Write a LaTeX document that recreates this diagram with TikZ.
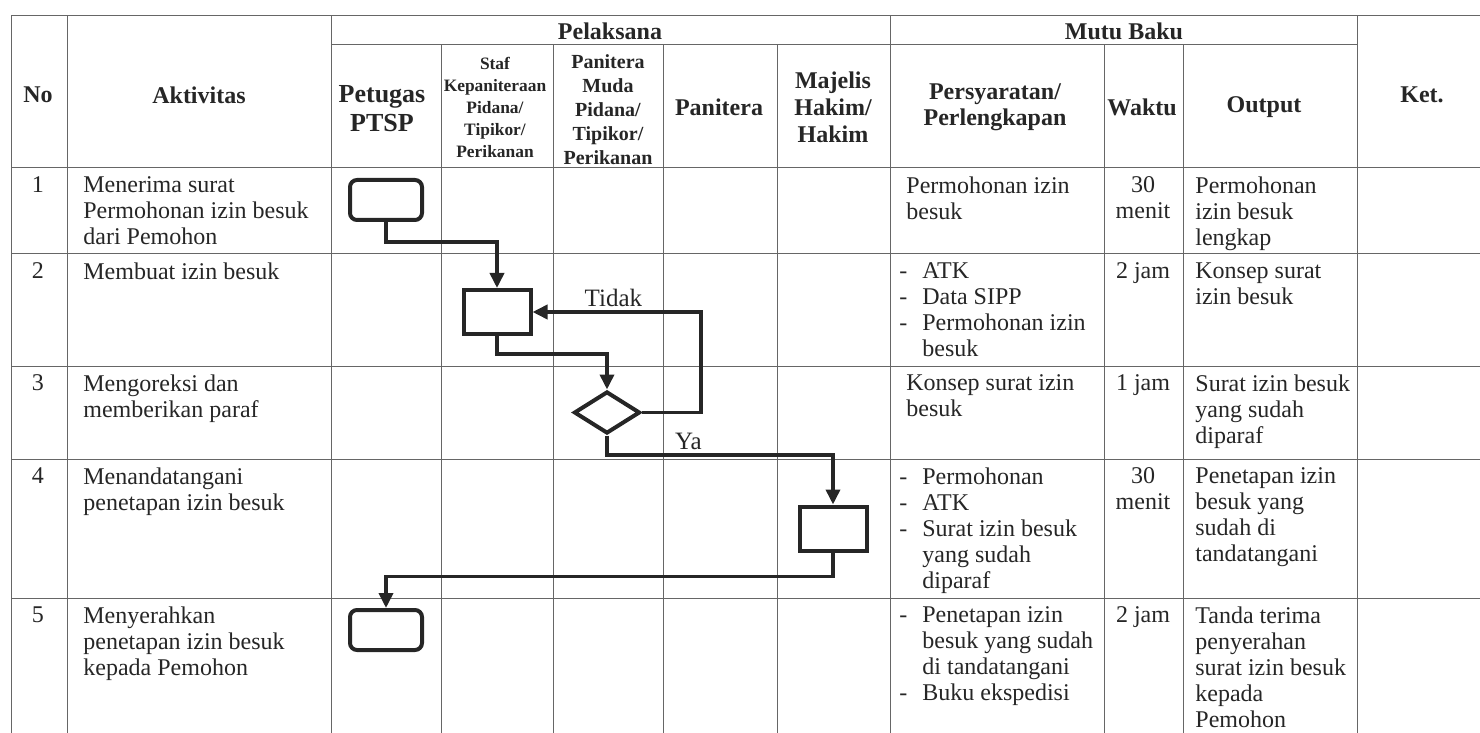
\documentclass[tikz,border=0pt]{standalone}
\usepackage{fontspec}
\setmainfont{Liberation Serif}
\usetikzlibrary{shapes.geometric,arrows.meta}
\newcommand{\listdash}{\makebox[11.5pt][l]{-}}
\newcommand{\listgap}{\makebox[11.5pt]{}}

\begin{document}
\begin{tikzpicture}[x=0.5pt,y=-0.5pt,
		grid/.style={line width=0.5pt,black!60},
		head/.style={font=\fontsize{12}{13}\selectfont\bfseries,align=center,text=black!85},
		cell/.style={anchor=north west,inner sep=0pt,align=left,font=\fontsize{12}{13}\selectfont,text=black!85},
		mid/.style={anchor=north,inner sep=0pt,align=center,font=\fontsize{12}{13}\selectfont,text=black!85},
		term/.style={draw=black!85,line width=2pt,rounded corners=3.5pt,minimum width=36pt,minimum height=20pt,inner sep=0pt},
		proc/.style={draw=black!85,line width=2pt,minimum width=33.5pt,minimum height=22pt,inner sep=0pt},
		dec/.style={diamond,draw=black!85,line width=2pt,minimum width=33pt,minimum height=21pt,inner sep=0pt},
		flow/.style={line width=1.8pt,black!85,-{Triangle[width=7pt,length=7.5pt]}},
		lab/.style={font=\fontsize{12.5}{13}\selectfont,text=black!85,inner sep=1.5pt}]
		\useasboundingbox (0,0) rectangle (1480,733);
		\clip (0,0) rectangle (1480,733);
		\draw[grid] (11,16) -- (1480,16);
		\draw[grid] (331,45) -- (1357,45);
		\foreach \y in {168,254,366,459,598}
			\draw[grid] (11,\y) -- (1480,\y);
		\foreach \x in {11,67,331,890,1357}
			\draw[grid] (\x,16) -- (\x,733);
		\foreach \x in {441,553,663,777,1104,1183}
			\draw[grid] (\x,45) -- (\x,733);
		\node[head] (no) at (38,95) {No};
		\node[head] (akt) at (199,95) {Aktivitas};
		\node[head] (pel) at (610,31) {Pelaksana};
		\node[head] (mutu) at (1124,31) {Mutu Baku};
		\node[head] (ket) at (1422,95) {Ket.};
		\node[head,font=\fontsize{13}{14.5}\selectfont\bfseries] (ptsp) at (382,109) {Petugas\\PTSP};
		\node[head,font=\fontsize{8.7}{11}\selectfont\bfseries] (staf) at (495,107) {Staf\\Kepaniteraan\\Pidana/\\Tipikor/\\Perikanan};
		\node[head,font=\fontsize{10}{12}\selectfont\bfseries] (pmuda) at (608,110) {Panitera\\Muda\\Pidana/\\Tipikor/\\Perikanan};
		\node[head] (pan) at (719,107) {Panitera};
		\node[head,font=\fontsize{12}{13.5}\selectfont\bfseries] (mh) at (833,107) {Majelis\\Hakim/\\Hakim};
		\node[head] (syarat) at (995,107) {Persyaratan/\\Perlengkapan};
		\node[head] (waktu) at (1142,107) {Waktu};
		\node[head] (output) at (1264,107) {Output};
		\node[mid] (n1) at (38,176) {1};
		\node[mid] (n2) at (38,262) {2};
		\node[mid] (n3) at (38,374) {3};
		\node[mid] (n4) at (38,467) {4};
		\node[mid] (n5) at (38,606) {5};
		\node[cell] (a1) at (83,176) {Menerima surat\\Permohonan izin besuk\\dari Pemohon};
		\node[cell] (a2) at (83,262) {Membuat izin besuk};
		\node[cell] (a3) at (83,374) {Mengoreksi dan\\memberikan paraf};
		\node[cell] (a4) at (83,467) {Menandatangani\\penetapan izin besuk};
		\node[cell] (a5) at (83,606) {Menyerahkan\\penetapan izin besuk\\kepada Pemohon};
		\node[cell] (p1) at (906,176) {Permohonan izin\\besuk};
		\node[cell] (p2) at (899,262) {\listdash ATK\\\listdash Data SIPP\\\listdash Permohonan izin\\\listgap besuk};
		\node[cell] (p3) at (906,374) {Konsep surat izin\\besuk};
		\node[cell] (p4) at (899,467) {\listdash Permohonan\\\listdash ATK\\\listdash Surat izin besuk\\\listgap yang sudah\\\listgap diparaf};
		\node[cell] (p5) at (899,606) {\listdash Penetapan izin\\\listgap besuk yang sudah\\\listgap di tandatangani\\\listdash Buku ekspedisi};
		\node[mid] (w1) at (1143,176) {30\\menit};
		\node[mid] (w2) at (1143,262) {2 jam};
		\node[mid] (w3) at (1143,374) {1 jam};
		\node[mid] (w4) at (1143,467) {30\\menit};
		\node[mid] (w5) at (1143,606) {2 jam};
		\node[cell] (o1) at (1195,176) {Permohonan\\izin besuk\\lengkap};
		\node[cell] (o2) at (1195,262) {Konsep surat\\izin besuk};
		\node[cell] (o3) at (1195,374) {Surat izin besuk\\yang sudah\\diparaf};
		\node[cell] (o4) at (1195,467) {Penetapan izin\\besuk yang\\sudah di\\tandatangani};
		\node[cell] (o5) at (1195,606) {Tanda terima\\penyerahan\\surat izin besuk\\kepada\\Pemohon};
		\node[term] (s1) at (386,200) {};
		\node[proc] (s2) at (497,312) {};
		\node[dec] (d1) at (607,412.5) {};
		\node[proc] (s3) at (833,528.5) {};
		\node[term] (s4) at (386,630) {};
		\draw[flow] (s1.south) -- ++(0,20) -| (s2.north);
		\draw[flow] (s2.south) -- ++(0,18) -| (d1.north);
		\draw[flow] (d1.east) -- ++(59,0) |- node[lab,pos=0.76,above] {Tidak} (s2.east);
		\draw[flow] (d1.south) -- ++(0,19.5) -| node[lab,pos=0.18,above] {Ya} (s3.north);
		\draw[flow] (s3.south) -- ++(0,24) -| (s4.north);
\end{tikzpicture}
\end{document}
